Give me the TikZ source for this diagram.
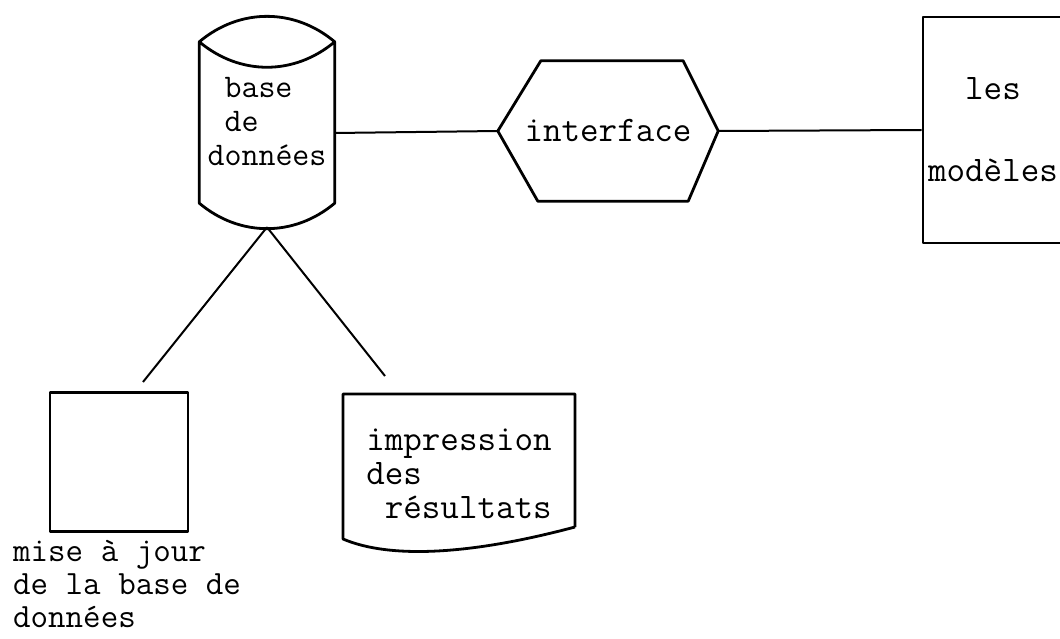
\documentclass[tikz,border=0pt]{standalone}
\usepackage{tikz}
\usetikzlibrary{calc}

\begin{document}
\begin{tikzpicture}[x=1pt, y=-1pt,
    outline/.style={line width=2.8pt, line join=round},
    link/.style={line width=2pt},
    typed/.style={font=\fontsize{36}{34}\selectfont\ttfamily, align=left, inner sep=0pt}]
  \fill[white] (0,0) rectangle (1060,639);
  \useasboundingbox (0,0) rectangle (1060,639);

  % nodes
  \node[typed, font=\fontsize{33}{34}\selectfont\ttfamily,
        minimum width=135pt, minimum height=210pt] (db) at (267,122) {\ base\\\ de\\données};
  \node[typed, minimum width=220pt, minimum height=140pt] (itf) at (608,131) {interface};
  \node[typed, outline, draw, align=center, font=\fontsize{36}{38}\selectfont\ttfamily,
        minimum width=140pt, minimum height=226pt] (mod) at (993,130) {les\\[44pt]modèles};
  \node[typed, outline, draw, minimum width=138pt, minimum height=139pt] (upd) at (119,462) {};
  \node[typed, font=\fontsize{34}{33}\selectfont\ttfamily, anchor=north west] (updlbl) at (13,540)
        {mise à jour\\de la base de\\données};
  \node[typed] (prt) at (459,474) {impression\\des\\\ résultats};
  \coordinate (updin) at (143,382);
  \coordinate (prtin) at (385,376);

  % shapes
  \draw[outline] ([yshift=-25pt]db.north west) to[bend left=40] ([yshift=-25pt]db.north east)
    to[bend left=40] ([yshift=-25pt]db.north west) -- ([yshift=24pt]db.south west)
    to[bend right=40] ([yshift=24pt]db.south east) -- ([yshift=-25pt]db.north east);
  \draw[outline] (itf.west) -- ([xshift=43pt]itf.north west) -- ([xshift=-35pt]itf.north east)
    -- (itf.east) -- ([xshift=-30pt]itf.south east) -- ([xshift=40pt]itf.south west) -- cycle;
  \draw[outline] ($(prt.center)+(116,53)$) -- ++(0,-133) -- ++(-232,0) -- ++(0,145)
    .. controls +(47,20) and +(-105,28) .. ($(prt.center)+(116,53)$);

  % links
  \draw[link] ([yshift=-11pt]db.east) -- (itf.west);
  \draw[link] (itf.east) -- (mod.west);
  \draw[link] (db.south) -- (updin);
  \draw[link] (db.south) -- (prtin);
\end{tikzpicture}
\end{document}
